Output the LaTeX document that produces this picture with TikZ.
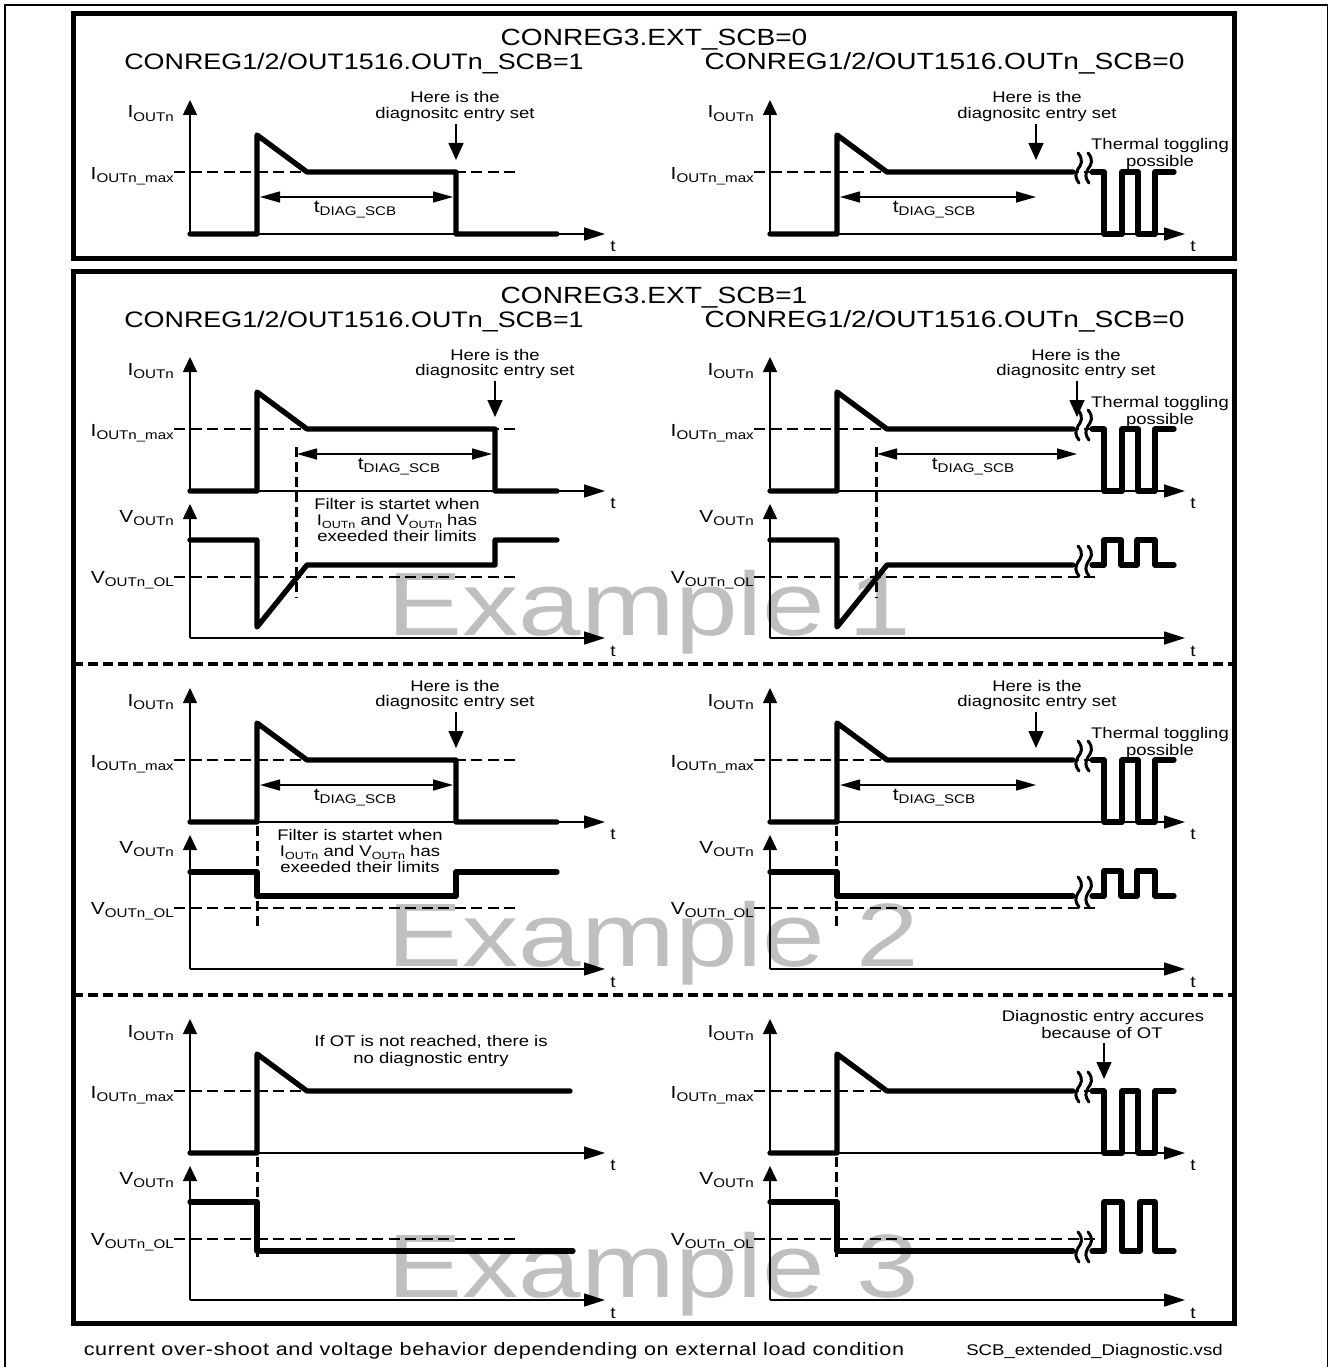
\documentclass[tikz,border=0pt]{standalone}
\usepackage{fontspec}
\setmainfont{Liberation Sans}[FakeStretch=1.2]
\newfontfamily\exfont{Liberation Sans}[FakeStretch=1.25]
\usetikzlibrary{arrows.meta}
\newcounter{lblc}
\newcommand\Fs[1]{\fontsize{#1}{#1}\selectfont}
\newcommand\Sb[1]{\raisebox{-3.5pt}{\Fs{12.6}#1}}
\newcommand\Sc[1]{\raisebox{-3pt}{\Fs{10.4}#1}}
\newcommand\Lb[4][txt]{\stepcounter{lblc}\node[#1] (n\arabic{lblc}) at (#2,#3) {#4};}
\tikzset{
  x=1pt,y=-1pt,
  txt/.style={anchor=base,inner sep=0pt,font=\Fs{15.4}},
  sig/.style={anchor=base east,inner sep=0pt,font=\Fs{17.5}},
  tlab/.style={anchor=base,inner sep=0pt,font=\Fs{16}},
  ttl/.style={anchor=base,inner sep=0pt,font=\Fs{22.4}},
  ttlb/.style={anchor=base,inner sep=0pt,font=\Fs{23.4}},
  exa/.style={anchor=base west,inner sep=0pt,font=\exfont\Fs{90},text=black!25},
  frameb/.style={line width=5pt,line join=miter},
  outerline/.style={line width=1.3pt},
  axisx/.style={line width=1.5pt,-{Triangle[length=21pt,width=13pt]}},
  axisy/.style={line width=1.5pt,-{Triangle[length=15pt,width=14pt]}},
  wave/.style={line width=5.3pt,line cap=round,line join=round},
  limitline/.style={line width=2.5pt,dash pattern=on 11pt off 5.5pt},
  divider/.style={line width=4pt,dash pattern=on 10pt off 5pt},
  filt/.style={line width=3pt,dash pattern=on 10pt off 5pt},
  entryarrow/.style={line width=1.5pt,-{Triangle[length=17pt,width=15pt]}},
  dbl/.style={line width=1.5pt,{Triangle[length=20pt,width=11pt]}-{Triangle[length=20pt,width=11pt]}},
  wig/.style={line width=3pt,line cap=round}
}
% I frame: coordinates of the top panel
\newcommand\Iax{%
  \draw[axisy] (190,234) -- (190,100);
  \draw[axisx] (190,234) -- (605,234);
  \draw[limitline] (174,172) -- (517,172);
  \Lb[sig]{174}{118}{I\Sb{OUTn}}
  \Lb[sig]{174}{179}{I\Sb{OUTn\_max}}
  \Lb[tlab]{613}{251}{t}
}
% V frame: coordinates of the Example 1 panel
\newcommand\Vax{%
  \draw[axisy] (190,638) -- (190,504);
  \draw[axisx] (190,638) -- (605,638);
  \draw[limitline] (174,577) -- (517,577);
  \Lb[sig]{174}{522}{V\Sb{OUTn}}
  \Lb[sig]{174}{583}{V\Sb{OUTn\_OL}}
  \Lb[tlab]{613}{656}{t}
}
\newcommand\Tdiag[1]{\Lb{#1}{212}{\Fs{17.5}t\Sb{DIAG\_SCB}}}
\newcommand\Here[1]{\Lb{#1}{103}{Here is the}\Lb{#1}{118.5}{diagnositc entry set}}
\newcommand\Therm{\Lb{580}{150}{Thermal toggling}\Lb{580}{167}{possible}}
\newcommand\Wig[2]{%
  \draw[wig] (#1,#2-19) .. controls (#1+6,#2-12) and (#1+3,#2-7) .. (#1,#2-3) .. controls (#1-3,#2+2) and (#1-3,#2+6) .. (#1+1,#2+11);
  \draw[wig] (#1+10,#2-19) .. controls (#1+16,#2-12) and (#1+13,#2-7) .. (#1+10,#2-3) .. controls (#1+7,#2+2) and (#1+7,#2+6) .. (#1+11,#2+11);
}
% current pulse up to the flat part, on to the break, then the toggling
\newcommand\Itog{%
  \draw[wave] (190,234) -- (257,234) -- (257,135) -- (307,172) -- (493,172);
  \Wig{498}{172}
  \draw[wave] (512,172) -- (524,172) -- (524,234) -- (542,234) -- (542,172) -- (558,172) -- (558,234) -- (575,234) -- (575,172) -- (594,172);
}
\begin{document}
\begin{tikzpicture}
\useasboundingbox (0,0) rectangle (1329,1367);
\draw[outerline] (5,1367) -- (5,5) -- (1327.5,5) -- (1327.5,1367);

\Lb[exa]{387.5}{635}{Example\kern-8pt\ 1}
\Lb[exa]{387.5}{966}{Example 2}
\Lb[exa]{387.5}{1297}{Example 3}

\draw[frameb] (73.5,14) rectangle (1234.5,258.5);
\draw[frameb] (73.5,271.5) rectangle (1234.5,1323.5);
\draw[divider] (73,663.5) -- (1235,663.5);
\draw[divider] (73,994.5) -- (1235,994.5);

\Lb[ttlb]{654}{46}{CONREG3.EXT\_SCB=0}
\Lb[ttl]{354}{70}{CONREG1/2/OUT1516.OUTn\_SCB=1}
\Lb[ttlb]{944.5}{70}{CONREG1/2/OUT1516.OUTn\_SCB=0}
\Lb[ttlb]{654}{303}{CONREG3.EXT\_SCB=1}
\Lb[ttl]{354}{327}{CONREG1/2/OUT1516.OUTn\_SCB=1}
\Lb[ttlb]{944.5}{327}{CONREG1/2/OUT1516.OUTn\_SCB=0}

% top, left
\Iax
\draw[wave] (190,234) -- (257,234) -- (257,135) -- (307,172) -- (456,172) -- (456,234) -- (557,234);
\draw[entryarrow] (456,124) -- (456,160);
\draw[dbl] (260,197) -- (453,197);
\Tdiag{355}
\Here{455}
% top, right
\begin{scope}[shift={(580,0)}]
\Iax \Itog
\draw[entryarrow] (456,124) -- (456,160);
\draw[dbl] (260,197) -- (456,197);
\Tdiag{354}
\Here{457}
\Therm
\end{scope}

% Example 1, left
\begin{scope}[shift={(0,257)}]
\Iax
\draw[wave] (190,234) -- (257,234) -- (257,135) -- (307,172) -- (495,172) -- (495,234) -- (557,234);
\draw[entryarrow] (495,124) -- (495,160);
\draw[dbl] (297,197) -- (492,197);
\Tdiag{399}
\Here{495}
\end{scope}
\Vax
\draw[wave] (190,540) -- (257,540) -- (257,627) -- (307,565) -- (495,565) -- (495,540) -- (557,540);
\draw[filt] (296,447) -- (296,598);
\Lb{397}{509}{Filter is startet when}
\Lb{397}{525}{I\Sc{OUTn} and V\Sc{OUTn} has}
\Lb{397}{541}{exeeded their limits}
% Example 1, right
\begin{scope}[shift={(580,257)}]
\Iax \Itog
\draw[entryarrow] (497,124) -- (497,160);
\draw[dbl] (297,197) -- (497,197);
\Tdiag{393}
\Here{496}
\Therm
\end{scope}
\begin{scope}[shift={(580,0)}]
\Vax
\draw[wave] (190,540) -- (257,540) -- (257,627) -- (307,565) -- (493,565);
\Wig{498}{565}
\draw[wave] (512,565) -- (524,565) -- (524,540) -- (541,540) -- (541,565) -- (557,565) -- (557,540) -- (575,540) -- (575,565) -- (594,565);
\draw[filt] (296,447) -- (296,598);
\end{scope}

% Example 2, left
\begin{scope}[shift={(0,588)}]
\Iax
\draw[wave] (190,234) -- (257,234) -- (257,135) -- (307,172) -- (456,172) -- (456,234) -- (557,234);
\draw[entryarrow] (456,124) -- (456,160);
\draw[dbl] (260,197) -- (453,197);
\Tdiag{355}
\Here{455}
\end{scope}
\begin{scope}[shift={(0,331)}]
\Vax
\draw[wave] (190,541) -- (257,541) -- (257,565) -- (456,565) -- (456,541) -- (557,541);
\draw[filt] (257,495) -- (257,598);
\Lb{360}{509}{Filter is startet when}
\Lb{360}{525}{I\Sc{OUTn} and V\Sc{OUTn} has}
\Lb{360}{541}{exeeded their limits}
\end{scope}
% Example 2, right
\begin{scope}[shift={(580,588)}]
\Iax \Itog
\draw[entryarrow] (456,124) -- (456,160);
\draw[dbl] (260,197) -- (456,197);
\Tdiag{354}
\Here{457}
\Therm
\end{scope}
\begin{scope}[shift={(580,331)}]
\Vax
\draw[wave] (190,541) -- (257,541) -- (257,565) -- (493,565);
\Wig{498}{565}
\draw[wave] (512,565) -- (524,565) -- (524,540) -- (541,540) -- (541,565) -- (557,565) -- (557,540) -- (575,540) -- (575,565) -- (594,565);
\draw[filt] (256,495) -- (256,598);
\end{scope}

% Example 3, left
\begin{scope}[shift={(0,919)}]
\Iax
\draw[wave] (190,234) -- (257,234) -- (257,135) -- (307,172) -- (570,172);
\Lb{431}{127}{If OT is not reached, there is}
\Lb{431}{144}{no diagnostic entry}
\end{scope}
\begin{scope}[shift={(0,662)}]
\Vax
\draw[wave] (190,540) -- (257,540) -- (257,589) -- (573,589);
\draw[filt] (257,495) -- (257,598);
\end{scope}
% Example 3, right
\begin{scope}[shift={(580,919)}]
\Iax \Itog
\draw[entryarrow] (524,124) -- (524,160);
\Lb{523}{102}{Diagnostic entry accures}
\Lb{522}{119}{because of OT}
\end{scope}
\begin{scope}[shift={(580,662)}]
\Vax
\draw[wave] (190,540) -- (257,540) -- (257,589) -- (493,589);
\Wig{498}{589}
\draw[wave] (512,589) -- (524,589) -- (524,540) -- (542,540) -- (542,589) -- (560,589) -- (560,540) -- (575,540) -- (575,589) -- (594,589);
\draw[filt] (256,495) -- (256,598);
\end{scope}

\Lb{494}{1355}{\Fs{18}\addfontfeature{LetterSpace=3.5}current over-shoot and voltage behavior dependending on external load condition}
\Lb{1094.5}{1355}{\Fs{15.5}SCB\_extended\_Diagnostic.vsd}
\end{tikzpicture}
\end{document}
